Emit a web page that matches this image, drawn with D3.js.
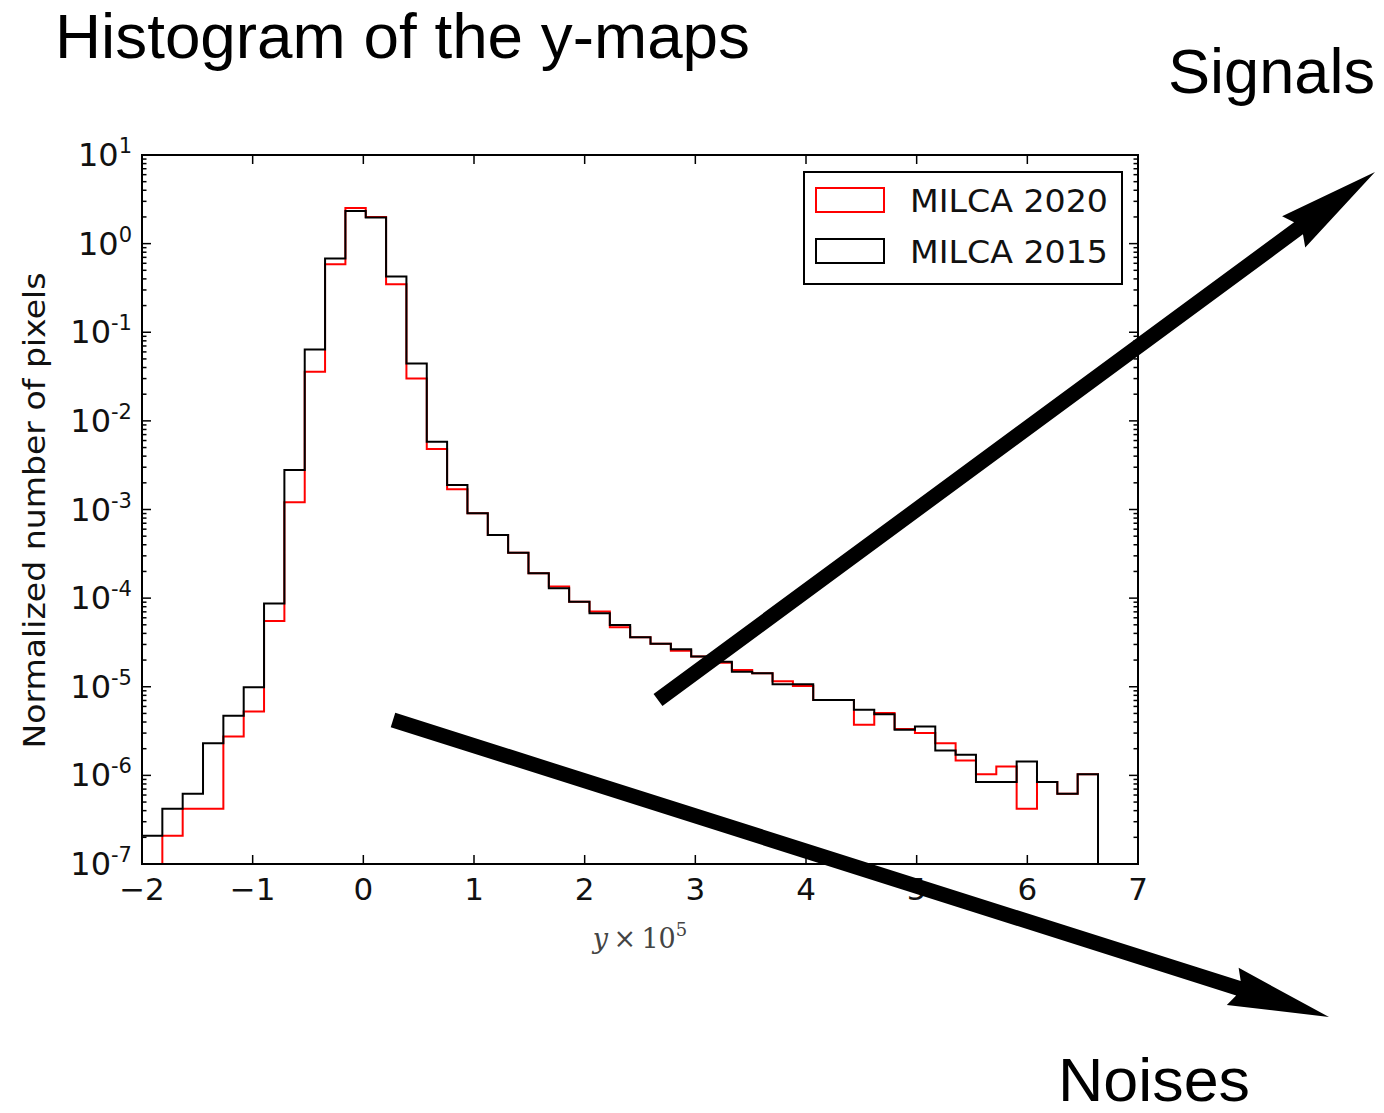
<!DOCTYPE html>
<html>
<head>
<meta charset="utf-8">
<script src="https://cdn.jsdelivr.net/npm/d3@7"></script>
<style>
  body { margin: 0; background: #fff; }
  svg { display: block; }
</style>
</head>
<body>
<svg id="chart" width="1384" height="1113"></svg>
<script>
// Histogram binning: uniform bins starting at y×10^5 = -2
const binStart = -2.0;
const binWidth = 0.1838;

// Normalized pixel counts per bin (0 = empty bin)
const milca2020 = [
  0, 2.08e-7, 4.2e-7, 4.2e-7, 2.75e-6, 5.25e-6, 5.53e-5, 1.21e-3, 0.0358, 0.586,
  2.53, 2.0, 0.348, 0.0301, 4.81e-3, 1.69e-3, 9.06e-4, 5.16e-4, 3.26e-4, 1.91e-4,
  1.35e-4, 9.1e-5, 7.05e-5, 4.7e-5, 3.62e-5, 3.05e-5, 2.54e-5, 2.19e-5, 1.87e-5, 1.55e-5,
  1.42e-5, 1.15e-5, 1.02e-5, 7.1e-6, 7.1e-6, 3.72e-6, 5.04e-6, 3.33e-6, 3.0e-6, 2.31e-6,
  1.47e-6, 1.03e-6, 1.26e-6, 4.2e-7, 8.4e-7, 6.2e-7, 1.03e-6
];
const milca2015 = [
  2.08e-7, 4.2e-7, 6.2e-7, 2.31e-6, 4.7e-6, 9.9e-6, 8.7e-5, 2.79e-3, 0.064, 0.68,
  2.34, 1.97, 0.426, 0.0445, 5.8e-3, 1.89e-3, 9.06e-4, 5.16e-4, 3.26e-4, 1.91e-4,
  1.29e-4, 9.1e-5, 6.76e-5, 4.99e-5, 3.62e-5, 3.05e-5, 2.65e-5, 2.19e-5, 1.92e-5, 1.48e-5,
  1.42e-5, 1.07e-5, 1.07e-5, 7.1e-6, 7.1e-6, 5.5e-6, 4.91e-6, 3.27e-6, 3.56e-6, 1.91e-6,
  1.71e-6, 8.4e-7, 8.4e-7, 1.43e-6, 8.4e-7, 6.2e-7, 1.03e-6
];

const seriesNames = ["MILCA 2020", "MILCA 2015"];
const seriesColors = ["#ff0000", "#000000"];

const xTickValues = [-2, -1, 0, 1, 2, 3, 4, 5, 6, 7];
const xTickLabels = ["\u22122", "\u22121", "0", "1", "2", "3", "4", "5", "6", "7"];
const yTickExponents = [-7, -6, -5, -4, -3, -2, -1, 0, 1];

const titleText = "Histogram of the y-maps";
const yAxisTitle = "Normalized number of pixels";

// ---- layout ----
const svg = d3.select("#chart");
const plot = { left: 142, right: 1138, top: 155, bottom: 864 };

const x = d3.scaleLinear().domain([-2, 7]).range([plot.left, plot.right]);
const y = d3.scaleLog().domain([1e-7, 10]).range([plot.bottom, plot.top]);

const edges = d3.range(milca2015.length + 1).map(i => binStart + i * binWidth);

// step outline of a histogram, dropping to the axis floor at both ends
function stepPath(values) {
  const floor = y.domain()[0];
  const yy = v => y(Math.max(v, floor));
  const pts = [[x(edges[0]), yy(0)]];
  values.forEach((v, i) => {
    pts.push([x(edges[i]), yy(v)]);
    pts.push([x(edges[i + 1]), yy(v)]);
  });
  pts.push([x(edges[edges.length - 1]), yy(0)]);
  return d3.line()(pts);
}

svg.append("clipPath").attr("id", "plotclip")
  .append("rect")
  .attr("x", plot.left).attr("y", plot.top)
  .attr("width", plot.right - plot.left).attr("height", plot.bottom - plot.top);

const g = svg.append("g").attr("clip-path", "url(#plotclip)");
[milca2020, milca2015].forEach((vals, i) => {
  g.append("path")
    .attr("d", stepPath(vals))
    .attr("fill", "none")
    .attr("stroke", seriesColors[i])
    .attr("stroke-width", 2)
    .attr("stroke-linejoin", "miter");
});

// ---- ticks (inward, on all four sides) ----
const ticks = svg.append("g").attr("stroke", "#000").attr("stroke-width", 1.5);
const majorLen = 9, minorLen = 4.5;
xTickValues.forEach(v => {
  ticks.append("line").attr("x1", x(v)).attr("x2", x(v)).attr("y1", plot.bottom).attr("y2", plot.bottom - majorLen);
  ticks.append("line").attr("x1", x(v)).attr("x2", x(v)).attr("y1", plot.top).attr("y2", plot.top + majorLen);
});
yTickExponents.forEach(e => {
  const yy = y(Math.pow(10, e));
  ticks.append("line").attr("x1", plot.left).attr("x2", plot.left + majorLen).attr("y1", yy).attr("y2", yy);
  ticks.append("line").attr("x1", plot.right).attr("x2", plot.right - majorLen).attr("y1", yy).attr("y2", yy);
  if (e < 1) {
    for (let m = 2; m <= 9; m++) {
      const ym = y(m * Math.pow(10, e));
      ticks.append("line").attr("x1", plot.left).attr("x2", plot.left + minorLen).attr("y1", ym).attr("y2", ym);
      ticks.append("line").attr("x1", plot.right).attr("x2", plot.right - minorLen).attr("y1", ym).attr("y2", ym);
    }
  }
});

// frame
svg.append("rect")
  .attr("x", plot.left).attr("y", plot.top)
  .attr("width", plot.right - plot.left).attr("height", plot.bottom - plot.top)
  .attr("fill", "none").attr("stroke", "#000").attr("stroke-width", 2);

// ---- tick labels ----
const tickFont = "'DejaVu Sans', sans-serif";
svg.append("g").selectAll("text").data(xTickValues).join("text")
  .attr("x", d => x(d))
  .attr("y", plot.bottom + 36)
  .attr("text-anchor", "middle")
  .attr("font-family", tickFont)
  .attr("font-size", 31)
  .attr("fill", "#111")
  .text((d, i) => xTickLabels[i]);

const yLab = svg.append("g").selectAll("text").data(yTickExponents).join("text")
  .attr("x", plot.left - 10)
  .attr("y", d => y(Math.pow(10, d)) + 11)
  .attr("text-anchor", "end")
  .attr("font-family", tickFont)
  .attr("font-size", 32)
  .attr("fill", "#111");
yLab.append("tspan").text("10");
yLab.append("tspan")
  .attr("font-size", 21)
  .attr("dy", -13)
  .text(d => d < 0 ? "-" + Math.abs(d) : String(d));

// ---- axis titles ----
svg.append("text")
  .attr("transform", `translate(45, ${(plot.top + plot.bottom) / 2 + 1}) rotate(-90)`)
  .attr("text-anchor", "middle")
  .attr("font-family", tickFont)
  .attr("font-size", 30)
  .attr("textLength", 476)
  .attr("lengthAdjust", "spacingAndGlyphs")
  .attr("fill", "#111")
  .text(yAxisTitle);

const xt = svg.append("text")
  .attr("x", 640).attr("y", 948)
  .attr("text-anchor", "middle")
  .attr("font-family", "'DejaVu Serif', 'Liberation Serif', serif")
  .attr("font-size", 27)
  .attr("fill", "#444");
xt.append("tspan").attr("font-style", "italic").text("y");
xt.append("tspan").text("\u2009\u00d7\u200910");
xt.append("tspan").attr("font-size", 18).attr("dy", -12).text("5");

// ---- legend ----
const legend = svg.append("g");
legend.append("rect")
  .attr("x", 804).attr("y", 172).attr("width", 318).attr("height", 112)
  .attr("fill", "#fff").attr("stroke", "#000").attr("stroke-width", 2);
seriesNames.forEach((name, i) => {
  const cy = 200 + i * 51;
  legend.append("rect")
    .attr("x", 816).attr("y", cy - 12).attr("width", 68).attr("height", 24)
    .attr("fill", "none").attr("stroke", seriesColors[i]).attr("stroke-width", 2);
  legend.append("text")
    .attr("x", 910).attr("y", cy + 12)
    .attr("font-family", tickFont)
    .attr("font-size", 32)
    .attr("textLength", 198)
    .attr("lengthAdjust", "spacingAndGlyphs")
    .attr("fill", "#111")
    .text(name);
});

// ---- annotations ----
function arrowPolygon(tail, tip, shaftW, headW, headL) {
  const dx = tip[0] - tail[0], dy = tip[1] - tail[1];
  const len = Math.hypot(dx, dy);
  const ux = dx / len, uy = dy / len;
  const nx = -uy, ny = ux;
  const bx = tip[0] - ux * headL, by = tip[1] - uy * headL;
  const s = shaftW / 2, h = headW / 2;
  return [
    [tail[0] + nx * s, tail[1] + ny * s],
    [bx + nx * s + ux * 6, by + ny * s + uy * 6],
    [bx + nx * h, by + ny * h],
    tip,
    [bx - nx * h, by - ny * h],
    [bx - nx * s + ux * 6, by - ny * s + uy * 6],
    [tail[0] - nx * s, tail[1] - ny * s]
  ];
}
const annotations = [
  { tail: [658, 700], tip: [1375, 172] },
  { tail: [393, 720], tip: [1329, 1017] }
];
svg.append("g").selectAll("polygon").data(annotations).join("polygon")
  .attr("points", d => arrowPolygon(d.tail, d.tip, 15, 39, 101).map(p => p.join(",")).join(" "))
  .attr("fill", "#000");

const bigFont = "'Liberation Sans', Arial, sans-serif";
svg.append("text").attr("x", 55).attr("y", 58)
  .attr("font-family", bigFont).attr("font-size", 63)
  .attr("textLength", 695).attr("lengthAdjust", "spacingAndGlyphs")
  .text(titleText);
svg.append("text").attr("x", 1168).attr("y", 93)
  .attr("font-family", bigFont).attr("font-size", 63)
  .attr("textLength", 207).attr("lengthAdjust", "spacingAndGlyphs")
  .text("Signals");
svg.append("text").attr("x", 1058).attr("y", 1101)
  .attr("font-family", bigFont).attr("font-size", 62)
  .attr("textLength", 192).attr("lengthAdjust", "spacingAndGlyphs")
  .text("Noises");
</script>
</body>
</html>
